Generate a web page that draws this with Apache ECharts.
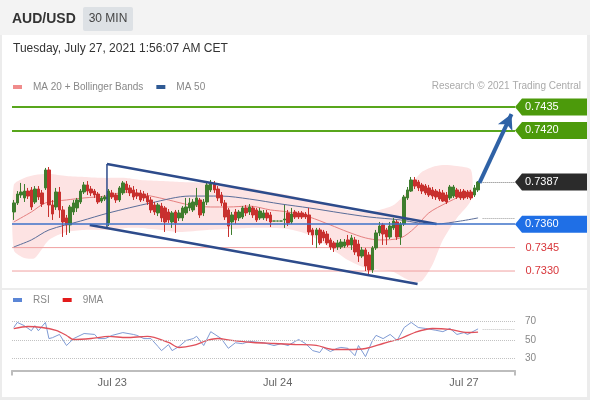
<!DOCTYPE html>
<html><head><meta charset="utf-8">
<script src="https://cdn.jsdelivr.net/npm/echarts@6/dist/echarts.min.js"></script>
<style>html,body{margin:0;padding:0;background:#fff}#c{width:590px;height:400px}</style>
</head><body><div id="c"></div>
<script>
// ---------- data ----------
const slotCount = 143;
const dateLabels = {28: 'Jul 23', 75: 'Jul 24', 128: 'Jul 27'};
// [open, close, low, high]
const candles = [
[0.73678,0.73736,0.73627,0.73755],[0.73736,0.73793,0.73723,0.73812],[0.73787,0.73806,0.73768,0.73864],[0.73768,0.73812,0.73742,0.73857],[0.73812,0.73780,0.73761,0.73832],
[0.73819,0.73710,0.73691,0.73838],[0.73742,0.73825,0.73729,0.73844],[0.73825,0.73774,0.73755,0.73844],[0.73800,0.73729,0.73710,0.73819],[0.73832,0.73947,0.73819,0.73960],
[0.73947,0.73723,0.73646,0.73966],[0.73723,0.73665,0.73627,0.73755],[0.73710,0.73806,0.73691,0.73832],[0.73806,0.73691,0.73640,0.73838],[0.73691,0.73614,0.73518,0.73716],
[0.73640,0.73595,0.73531,0.73659],[0.73595,0.73710,0.73544,0.73723],[0.73678,0.73736,0.73659,0.73755],[0.73704,0.73755,0.73678,0.73768],[0.73742,0.73812,0.73729,0.73825],
[0.73806,0.73851,0.73793,0.73870],[0.73851,0.73812,0.73787,0.73876],[0.73825,0.73800,0.73780,0.73844],[0.73812,0.73787,0.73768,0.73825],[0.73793,0.73742,0.73729,0.73806],
[0.73748,0.73768,0.73736,0.73780],[0.73761,0.73774,0.73748,0.73787],[0.73608,0.73812,0.73588,0.73825],[0.73800,0.73774,0.73761,0.73819],[0.73787,0.73755,0.73736,0.73800],
[0.73755,0.73832,0.73742,0.73844],[0.73800,0.73864,0.73787,0.73876],[0.73857,0.73819,0.73800,0.73876],[0.73832,0.73800,0.73780,0.73851],[0.73819,0.73774,0.73755,0.73844],
[0.73800,0.73780,0.73761,0.73825],[0.73800,0.73755,0.73742,0.73819],[0.73793,0.73768,0.73748,0.73812],[0.73780,0.73742,0.73723,0.73800],[0.73755,0.73691,0.73672,0.73774],
[0.73723,0.73678,0.73659,0.73742],[0.73672,0.73723,0.73652,0.73736],[0.73716,0.73640,0.73614,0.73736],[0.73704,0.73614,0.73550,0.73716],[0.73678,0.73627,0.73608,0.73697],
[0.73614,0.73672,0.73576,0.73684],[0.73678,0.73608,0.73544,0.73691],[0.73640,0.73672,0.73620,0.73691],[0.73640,0.73704,0.73620,0.73716],[0.73672,0.73710,0.73659,0.73768],
[0.73704,0.73736,0.73684,0.73768],[0.73691,0.73742,0.73678,0.73761],[0.73723,0.73768,0.73710,0.73832],[0.73755,0.73659,0.73640,0.73768],[0.73672,0.73742,0.73652,0.73761],
[0.73742,0.73851,0.73723,0.73864],[0.73819,0.73857,0.73806,0.73883],[0.73857,0.73819,0.73800,0.73876],[0.73825,0.73768,0.73748,0.73844],[0.73787,0.73736,0.73716,0.73806],
[0.73736,0.73646,0.73627,0.73755],[0.73691,0.73588,0.73518,0.73704],[0.73614,0.73659,0.73531,0.73678],[0.73678,0.73627,0.73601,0.73697],[0.73640,0.73678,0.73620,0.73691],
[0.73646,0.73704,0.73633,0.73716],[0.73704,0.73672,0.73652,0.73723],[0.73678,0.73710,0.73659,0.73729],[0.73704,0.73659,0.73640,0.73716],[0.73691,0.73627,0.73614,0.73704],
[0.73640,0.73684,0.73627,0.73704],[0.73640,0.73672,0.73627,0.73691],[0.73672,0.73640,0.73620,0.73691],[0.73659,0.73614,0.73582,0.73678],[0.73620,0.73620,0.73620,0.73620],
[0.73620,0.73620,0.73620,0.73620],[0.73620,0.73620,0.73620,0.73620],[0.73627,0.73633,0.73576,0.73723],[0.73672,0.73608,0.73588,0.73691],[0.73614,0.73665,0.73601,0.73704],
[0.73678,0.73646,0.73633,0.73691],[0.73672,0.73646,0.73633,0.73684],[0.73672,0.73646,0.73633,0.73684],[0.73665,0.73646,0.73633,0.73678],[0.73659,0.73550,0.73531,0.73704],
[0.73563,0.73531,0.73467,0.73576],[0.73531,0.73563,0.73448,0.73576],[0.73563,0.73480,0.73467,0.73576],[0.73550,0.73512,0.73492,0.73563],[0.73537,0.73480,0.73467,0.73556],
[0.73499,0.73454,0.73435,0.73512],[0.73480,0.73448,0.73422,0.73492],[0.73454,0.73480,0.73435,0.73499],[0.73454,0.73486,0.73441,0.73505],[0.73460,0.73486,0.73448,0.73505],
[0.73499,0.73467,0.73454,0.73531],[0.73467,0.73512,0.73435,0.73531],[0.73499,0.73422,0.73403,0.73518],[0.73473,0.73396,0.73358,0.73499],[0.73396,0.73435,0.73384,0.73454],
[0.73435,0.73332,0.73300,0.73448],[0.73403,0.73307,0.73275,0.73422],[0.73307,0.73448,0.73288,0.73460],[0.73448,0.73544,0.73435,0.73563],[0.73544,0.73588,0.73524,0.73614],
[0.73595,0.73537,0.73467,0.73608],[0.73563,0.73518,0.73467,0.73576],[0.73518,0.73588,0.73505,0.73614],[0.73576,0.73620,0.73563,0.73640],[0.73614,0.73518,0.73499,0.73627],
[0.73518,0.73601,0.73467,0.73614],[0.73601,0.73774,0.73588,0.73787],[0.73768,0.73819,0.73755,0.73838],[0.73812,0.73883,0.73806,0.73902],[0.73883,0.73844,0.73825,0.73902],
[0.73870,0.73832,0.73812,0.73883],[0.73851,0.73812,0.73793,0.73864],[0.73844,0.73800,0.73787,0.73857],[0.73832,0.73787,0.73774,0.73851],[0.73819,0.73780,0.73761,0.73838],
[0.73812,0.73774,0.73755,0.73825],[0.73806,0.73761,0.73748,0.73825],[0.73800,0.73748,0.73742,0.73819],[0.73787,0.73742,0.73729,0.73806],[0.73768,0.73838,0.73755,0.73851],
[0.73780,0.73838,0.73768,0.73851],[0.73819,0.73774,0.73761,0.73832],[0.73806,0.73768,0.73755,0.73825],[0.73812,0.73768,0.73755,0.73825],[0.73806,0.73774,0.73761,0.73819],
[0.73806,0.73768,0.73755,0.73819],[0.73787,0.73832,0.73774,0.73851],[0.73819,0.73870,0.73806,0.73876]
];
const bandUpper = [[0,0.73851],[3,0.73896],[6,0.73915],[10,0.73921],[15,0.73908],[20,0.73902],[26,0.73896],[32,0.73896],[36,0.73883],[42,0.73876],[47,0.73870],[55,0.73864],[61,0.73844],[67,0.73832],[73,0.73806],[78,0.73787],[84,0.73755],[90,0.73723],[95,0.73691],[100,0.73678],[104,0.73691],[108,0.73723],[111,0.73787],[114,0.73883],[116,0.73934],[119,0.73966],[122,0.73979],[126,0.73972],[130,0.73947]];
const bandLower = [[0,0.73435],[3,0.73384],[6,0.73384],[10,0.73499],[15,0.73550],[20,0.73563],[26,0.73563],[32,0.73576],[36,0.73576],[42,0.73563],[47,0.73550],[55,0.73563],[61,0.73569],[67,0.73576],[73,0.73576],[78,0.73569],[84,0.73531],[90,0.73448],[95,0.73371],[100,0.73320],[104,0.73307],[108,0.73294],[111,0.73256],[114,0.73230],[116,0.73236],[119,0.73339],[122,0.73499],[126,0.73640],[130,0.73755]];
const ma20 = [[0,0.73614],[5,0.73678],[9,0.73736],[15,0.73755],[20,0.73768],[26,0.73780],[32,0.73806],[39,0.73780],[44,0.73755],[50,0.73723],[56,0.73710],[61,0.73710],[67,0.73716],[73,0.73691],[78,0.73678],[84,0.73646],[90,0.73595],[95,0.73550],[100,0.73512],[104,0.73499],[110,0.73512],[114,0.73576],[118,0.73672],[123,0.73736],[127,0.73780],[130,0.73819]];
const ma50 = [[0,0.73454],[5,0.73499],[10,0.73563],[19,0.73620],[27,0.73672],[39,0.73736],[50,0.73780],[59,0.73780],[67,0.73761],[76,0.73729],[84,0.73704],[93,0.73672],[101,0.73646],[110,0.73627],[115,0.73608],[120,0.73601],[127,0.73620],[132,0.73640]];
const rsi = [[0,63.5],[1,69],[3,65.5],[5,60],[6,65.5],[7,60],[9,69],[10,51.5],[11,52.5],[13,56],[15,44],[17,51.5],[20,57],[23,56],[24,51.5],[26,51.5],[28,55],[31,58],[34,56],[35,55],[37,51.5],[39,51.5],[41,43],[42,38.5],[44,45],[45,38.5],[47,43],[49,49.5],[51,51.5],[52,54],[54,44],[56,59],[59,51.5],[61,41],[63,47],[65,46],[67,48.5],[71,47],[74,44],[76,46],[78,44],[80,48.5],[81,50.5],[83,46],[85,38.5],[87,36.5],[88,42],[90,37.5],[92,41],[93,42],[95,41],[97,33],[98,44],[100,32],[102,49.5],[103,55],[105,51.5],[107,56],[109,49.5],[111,63.5],[113,69],[115,63.5],[117,62.5],[120,60.5],[122,59],[124,62.5],[126,56],[128,58],[129,56],[130,58],[132,62]];
const rsi9ma = [[0,62.4],[4,64.6],[8,63.5],[12,60.3],[15,54.9],[17,50.5],[22,51.6],[27,53.8],[32,52.7],[38,53.8],[44,47.3],[47,41.9],[51,44.1],[55,49.5],[58,51.6],[62,49.5],[68,47.3],[74,46.2],[80,45.1],[86,44.1],[91,39.7],[95,39.7],[100,40.8],[105,46.2],[110,51.6],[114,58.1],[119,62.4],[124,61.4],[129,58.1],[132,58.6]];
const levels = {target2: 0.7435, target1: 0.7420, last: 0.7387, pivot: 0.7360, support1: 0.7345, support2: 0.7330};
const lastMa50 = 0.7364;
const lastRsi = 62;
const rsiLevels = [70, 50, 30];
const channelUpper = [[26.5, 0.73985], [120.2, 0.73601]];
const channelLower = [[21.6, 0.73595], [114.8, 0.73217]];
const channelEdge = [[26.5, 0.73985], [26.5, 0.73576]];
const arrowPath = [[132.4, 0.73864], [141.5, 0.74305]];

// ---------- chart ----------
const slots = [];
for (let i = 0; i < slotCount; i++) slots.push(String(i));
const font = '"Liberation Sans", Arial, sans-serif';
const xEnd = slotCount - 0.5;
const boxPath = 'path://M0,8.5L7,0L72,0L72,17L7,17Z';
const fmt = v => Number(v).toFixed(4);

function box(value, color) {
  return {coord: [xEnd, value], value: value, itemStyle: {color: color},
          label: {formatter: fmt(value)}};
}
function hLine(value, color, width) {
  return [
    {coord: [-0.5, value], lineStyle: {color: color, width: width, type: 'solid', opacity: 1}},
    {coord: [xEnd, value], lineStyle: {color: color, width: width, type: 'solid', opacity: 1}}
  ];
}
function textTag(value) {
  return {coord: [xEnd, value], value: value, label: {formatter: fmt(value)}};
}
function supportSeries(name, value) {
  return {
    type: 'line', name: name, xAxisIndex: 1, yAxisIndex: 0, z: 2,
    data: [[-0.5, value], [xEnd, value]],
    showSymbol: false, silent: true,
    itemStyle: {color: '#f0a0a0'}, lineStyle: {color: '#f0a0a0', width: 1, type: 'solid'}
  };
}

const option = {
  animation: false,
  backgroundColor: '#ececec',
  textStyle: {fontFamily: font},
  graphic: [
    {type: 'rect', z: -10, shape: {x: 0, y: 0, width: 590, height: 35}, style: {fill: '#f3f3f3'}},
    {type: 'rect', z: -10, shape: {x: 2, y: 35, width: 585, height: 362}, style: {fill: '#ffffff'}},
    {type: 'rect', z: -9, shape: {x: 2, y: 288, width: 585, height: 2}, style: {fill: '#ececec'}},
    {type: 'rect', shape: {x: 83, y: 7, width: 50, height: 24, r: 2}, style: {fill: '#dde1e5'}},
    {type: 'text', x: 12, y: 19, style: {text: 'AUD/USD', fill: '#333', fontSize: 14, fontWeight: 'bold', fontFamily: font, verticalAlign: 'middle'}},
    {type: 'text', x: 108, y: 19, style: {text: '30 MIN', fill: '#444', fontSize: 12, fontFamily: font, align: 'center', verticalAlign: 'middle'}},
    {type: 'text', x: 13, y: 49, style: {text: 'Tuesday, July 27, 2021 1:56:07 AM CET', fill: '#333', fontSize: 12, fontFamily: font, verticalAlign: 'middle'}},
    {type: 'text', x: 581, y: 86, style: {text: 'Research \u00A9 2021 Trading Central', fill: '#aaa', fontSize: 10, fontFamily: font, align: 'right', verticalAlign: 'middle'}}
  ],
  legend: [
    {left: 8, top: 77, itemWidth: 9, itemHeight: 4, itemGap: 13, selectedMode: false,
     textStyle: {color: '#888', fontSize: 10, padding: [0, 0, 0, 6]},
     data: [{name: 'MA 20 + Bollinger Bands', icon: 'rect', itemStyle: {color: '#f08c8c'}},
            {name: 'MA 50', icon: 'rect', itemStyle: {color: '#2f5a94'}}]},
    {left: 8, top: 290, itemWidth: 9, itemHeight: 4, itemGap: 13, selectedMode: false,
     textStyle: {color: '#888', fontSize: 10, padding: [0, 0, 0, 6]},
     data: [{name: 'RSI', icon: 'rect', itemStyle: {color: '#5b86d6'}},
            {name: '9MA', icon: 'rect', itemStyle: {color: '#e31b1b'}}]}
  ],
  grid: [
    {left: 12, right: 75, top: 91.4, height: 195.25},
    {left: 12, right: 75, top: 303, height: 67.5}
  ],
  xAxis: [
    {type: 'category', gridIndex: 0, data: slots, boundaryGap: true, show: false},
    {type: 'value', gridIndex: 0, min: -0.5, max: xEnd, show: false},
    {type: 'category', gridIndex: 1, data: slots, boundaryGap: true,
     axisLine: {onZero: false, lineStyle: {color: '#bdbdbd', width: 2}},
     axisTick: {show: true, interval: i => i === 0, length: 5, lineStyle: {color: '#bdbdbd', width: 2}},
     axisLabel: {interval: i => dateLabels[i] !== undefined, formatter: (v, i) => dateLabels[i] || '', color: '#666', fontSize: 11, margin: 7},
     splitLine: {show: false}},
    {type: 'value', gridIndex: 1, min: -0.5, max: xEnd, show: false}
  ],
  yAxis: [
    {type: 'value', gridIndex: 0, min: 0.7320, max: 0.7445, show: false, splitLine: {show: false}},
    {type: 'value', gridIndex: 1, min: 17, max: 90, show: false, splitLine: {show: false}}
  ],
  series: [
    {
      type: 'custom', name: 'band', xAxisIndex: 1, yAxisIndex: 0, silent: true, z: 1, clip: true,
      data: [[0, 0.736]],
      renderItem: function (params, api) {
        const pts = bandUpper.map(p => api.coord(p)).concat(bandLower.slice().reverse().map(p => api.coord(p)));
        return {type: 'polygon', shape: {points: pts, smooth: 0.25}, style: {fill: '#fde3e3'}};
      }
    },
    {
      type: 'line', name: 'levels', xAxisIndex: 1, yAxisIndex: 0, data: [[-0.5, levels.pivot], [xEnd, levels.pivot]], z: 2,
      showSymbol: false, silent: true, lineStyle: {width: 0, opacity: 0},
      markLine: {
        silent: true, symbol: 'none', label: {show: false},
        data: [
          hLine(levels.target2, '#58a61c', 2),
          hLine(levels.target1, '#58a61c', 2),
          hLine(levels.pivot, '#3e72c8', 1.5)
        ]
      }
    },
    supportSeries('support1', levels.support1),
    supportSeries('support2', levels.support2),
    {
      type: 'line', name: 'supportTags', xAxisIndex: 1, yAxisIndex: 0, z: 2,
      data: [[xEnd, levels.support1]], showSymbol: false, silent: true,
      itemStyle: {color: '#f0a0a0'}, lineStyle: {color: '#f0a0a0', width: 0, opacity: 0},
      markPoint: {
        silent: true, symbol: 'circle', symbolSize: 1, itemStyle: {color: 'rgba(0,0,0,0)'},
        label: {show: true, position: 'right', distance: 10, color: '#d8363b', fontSize: 11},
        data: [textTag(levels.support1), textTag(levels.support2)]
      }
    },
    {
      type: 'line', name: 'MA 20 + Bollinger Bands', xAxisIndex: 1, yAxisIndex: 0, data: ma20, z: 2,
      showSymbol: false, smooth: 0.3, silent: true,
      itemStyle: {color: '#f08c8c'}, lineStyle: {color: '#e58080', width: 1}
    },
    {
      type: 'line', name: 'MA 50', xAxisIndex: 1, yAxisIndex: 0, data: ma50, z: 2,
      showSymbol: false, smooth: 0.3, silent: true,
      itemStyle: {color: '#2f5a94'}, lineStyle: {color: '#5a6d99', width: 1},
      markLine: {silent: true, symbol: 'none', label: {show: false},
        lineStyle: {color: '#9a9a9a', type: 'dotted', width: 1},
        data: [[{coord: [133.3, lastMa50]}, {coord: [xEnd, lastMa50]}]]}
    },
    {
      type: 'candlestick', name: 'AUD/USD', xAxisIndex: 0, yAxisIndex: 0, data: candles, z: 3,
      barWidth: 3, silent: true,
      itemStyle: {color: '#3f7d2e', color0: '#c8302e', borderColor: '#3f7d2e', borderColor0: '#c8302e', borderWidth: 1}
    },
    {
      type: 'line', name: 'channelUpper', xAxisIndex: 1, yAxisIndex: 0, data: channelUpper, z: 4,
      showSymbol: false, silent: true, lineStyle: {color: '#2d4b8b', width: 2.5},
      markLine: {silent: true, symbol: ['none', 'arrow'], symbolSize: [12, 15], label: {show: false},
        lineStyle: {color: '#2f62a6', width: 4, type: 'solid'},
        data: [[{coord: arrowPath[0]}, {coord: arrowPath[1]}]]},
      markPoint: {
        silent: true, symbol: boxPath, symbolSize: [72, 17], symbolOffset: ['50%', 0], symbolKeepAspect: false,
        label: {show: true, position: 'insideLeft', distance: 10, color: '#fff', fontSize: 11},
        data: [box(levels.target2, '#4c9a0b'), box(levels.target1, '#4c9a0b'), box(levels.last, '#2b2b2b'), box(levels.pivot, '#1f6fe6')]
      }
    },
    {
      type: 'line', name: 'channelLower', xAxisIndex: 1, yAxisIndex: 0, data: channelLower, z: 4,
      showSymbol: false, silent: true, lineStyle: {color: '#2d4b8b', width: 2.5},
      markLine: {silent: true, symbol: 'none', label: {show: false},
        lineStyle: {color: '#777', type: 'dotted', width: 1},
        data: [[{coord: [133.3, levels.last]}, {coord: [xEnd, levels.last]}]]}
    },
    {
      type: 'line', name: 'channelEdge', xAxisIndex: 1, yAxisIndex: 0, data: channelEdge, z: 4,
      showSymbol: false, silent: true, lineStyle: {color: '#2d4b8b', width: 1.5}
    },
    {
      type: 'line', name: 'RSI', xAxisIndex: 3, yAxisIndex: 1, data: rsi, z: 3,
      showSymbol: false, silent: true,
      itemStyle: {color: '#5b86d6'}, lineStyle: {color: '#7f9bd4', width: 1},
      markLine: {
        silent: true, symbol: 'none',
        lineStyle: {color: '#c2c2c2', type: 'dotted', width: 1},
        label: {show: true, position: 'end', distance: 10, color: '#888', fontSize: 10},
        data: rsiLevels.map(v => ({yAxis: v, label: {formatter: String(v)}})).concat([
          [{coord: [133.3, lastRsi], label: {show: false}}, {coord: [xEnd, lastRsi]}]
        ])
      }
    },
    {
      type: 'line', name: '9MA', xAxisIndex: 3, yAxisIndex: 1, data: rsi9ma, z: 4,
      showSymbol: false, smooth: 0.3, silent: true,
      itemStyle: {color: '#e31b1b'}, lineStyle: {color: '#e0505a', width: 1.3}
    }
  ]
};
const chart = echarts.init(document.getElementById('c'), null, {renderer: 'canvas'});
chart.setOption(option);
</script>
</body></html>
